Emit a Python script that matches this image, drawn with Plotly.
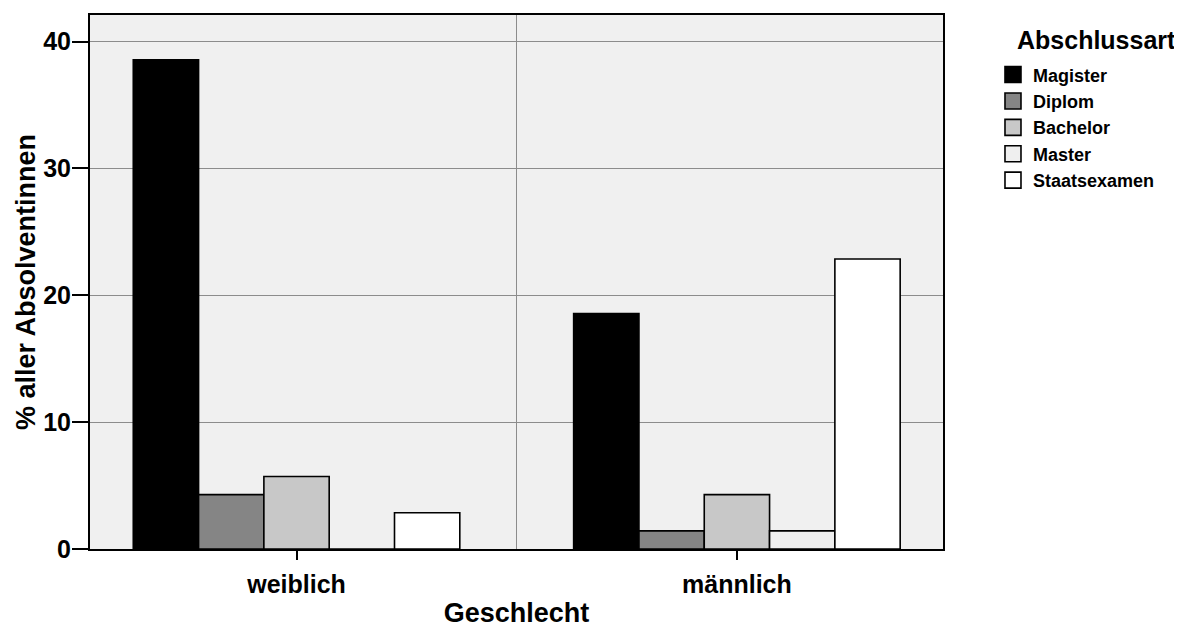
import plotly.graph_objects as go

categories = ["weiblich", "männlich"]
series_names = ["Magister", "Diplom", "Bachelor", "Master", "Staatsexamen"]
values = {
    "Magister": [38.57, 18.57],
    "Diplom": [4.29, 1.43],
    "Bachelor": [5.71, 4.29],
    "Master": [0.0, 1.43],
    "Staatsexamen": [2.86, 22.86],
}
colors = ["#000000", "#858585", "#c8c8c8", "#efefef", "#ffffff"]
y_ticks = [0, 10, 20, 30, 40]
legend_title = "Abschlussart"

FONT = "Liberation Sans, Arial, sans-serif"
xpos = list(range(len(categories)))

fig = go.Figure()
for name, col in zip(series_names, colors):
    fig.add_trace(go.Bar(
        x=xpos, y=values[name], name=name,
        marker=dict(color=col, line=dict(color="#000000", width=1.6)),
        showlegend=False,
    ))
# legend swatches
for name, col in zip(series_names, colors):
    fig.add_trace(go.Scatter(
        x=[None], y=[None], mode="markers", name=name,
        marker=dict(symbol="square", size=20, color=col,
                    line=dict(color="#000000", width=1.6)),
    ))

fig.update_layout(
    width=1182, height=630,
    margin=dict(l=82, r=247, t=7, b=89),
    paper_bgcolor="white", plot_bgcolor="#f0f0f0",
    barmode="group", bargap=0.2585, bargroupgap=0,
    font=dict(family=FONT, color="#000000", weight="bold"),
    legend=dict(
        font=dict(size=18, family=FONT, weight="bold"),
        x=1.0586, xanchor="left", y=0.9226, yanchor="top",
        itemsizing="trace", tracegroupgap=0,
        bgcolor="rgba(0,0,0,0)",
    ),
    showlegend=True,
    annotations=[dict(
        text=legend_title, xref="paper", yref="paper",
        x=1.1805, y=0.9532, xanchor="center", yanchor="middle",
        showarrow=False, font=dict(size=25, family=FONT, weight="bold", color="#000000"),
    )],
)
fig.update_xaxes(
    range=[-0.469, 1.468], automargin=False,
    tickmode="array", tickvals=xpos, ticktext=categories,
    tickfont=dict(size=25, family=FONT, weight="bold"),
    ticks="outside", ticklen=9, tickwidth=2, tickcolor="#000000",
    ticklabelstandoff=3,
    showgrid=False, zeroline=False,
    minor=dict(tickmode="array", tickvals=[0.5], showgrid=True, gridcolor="#8c8c8c", gridwidth=1, ticks=""),
    showline=True, linecolor="#000000", linewidth=2, mirror=True,
    title=dict(text="Geschlecht", font=dict(size=27, family=FONT, weight="bold"), standoff=6),
)
fig.update_yaxes(
    range=[0, 42.1], automargin=False,
    tickmode="array", tickvals=y_ticks,
    tickfont=dict(size=25, family=FONT, weight="bold"),
    ticks="outside", ticklen=16, tickwidth=2, tickcolor="#000000",
    ticklabelstandoff=-4,
    showgrid=True, gridcolor="#8c8c8c", gridwidth=1, zeroline=False,
    showline=True, linecolor="#000000", linewidth=2, mirror=True,
    title=dict(text="% aller Absolventinnen", font=dict(size=27, family=FONT, weight="bold"), standoff=0),
)

fig.write_html("out.html")
